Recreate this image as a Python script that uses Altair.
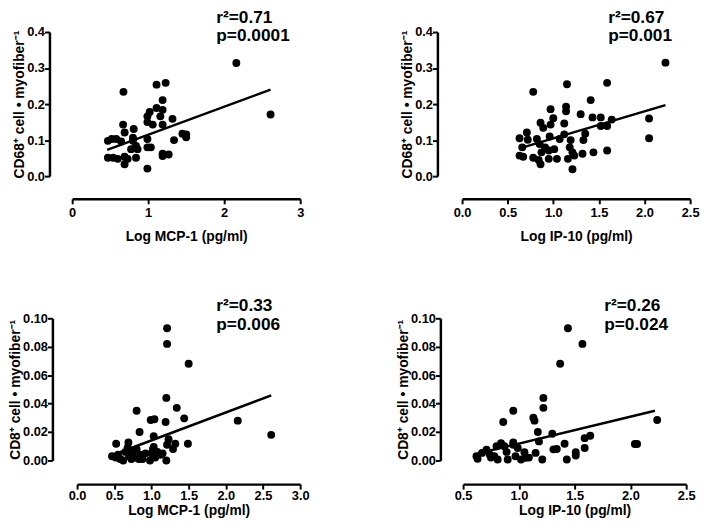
import altair as alt
import pandas as pd

FONT = "Liberation Sans"

# ---- Panel A: Log MCP-1 vs CD68+ cell / myofiber ----
a_x = [0.675, 1.11, 1.23, 1.19, 1.11, 1.19, 1.02, 0.99, 1.16, 0.99, 1.06, 1.32, 1.19,
       0.67, 0.81, 0.69, 0.52, 0.58, 0.645, 0.80, 0.80, 0.84, 0.775, 0.86, 0.99, 0.99,
       1.035, 1.34, 1.45, 1.50, 1.50, 1.19, 1.27, 1.19, 0.47, 0.54, 0.60, 0.69, 0.73,
       0.84, 0.69, 0.99, 2.16, 2.61, 0.47]
a_y = [0.234, 0.254, 0.259, 0.211, 0.189, 0.184, 0.178, 0.166, 0.166, 0.150, 0.143, 0.159, 0.143,
       0.143, 0.131, 0.121, 0.103, 0.103, 0.096, 0.107, 0.098, 0.084, 0.075, 0.075, 0.103, 0.080,
       0.080, 0.100, 0.118, 0.116, 0.108, 0.062, 0.060, 0.056, 0.051, 0.051, 0.048, 0.054, 0.048,
       0.051, 0.033, 0.021, 0.314, 0.171, 0.098]
a_fit_x = [0.46, 2.61]
a_fit_y = [0.073, 0.240]

# ---- Panel B: Log IP-10 vs CD68+ cell / myofiber ----
b_x = [0.78, 1.15, 1.59, 1.41, 0.97, 1.14, 1.14, 1.00, 1.30, 1.43, 1.52, 1.64, 0.86, 0.97,
       1.12, 0.89, 1.52, 1.59, 0.71, 0.63, 0.72, 0.82, 0.96, 1.12, 1.19, 1.07, 1.35, 1.33,
       0.66, 0.85, 0.91, 0.87, 1.01, 0.95, 1.18, 1.21, 0.63, 0.67, 0.78, 0.84, 0.95, 1.04,
       1.16, 1.23, 1.32, 1.44, 1.59, 0.86, 1.21, 2.23, 2.05, 2.05]
b_y = [0.234, 0.255, 0.259, 0.211, 0.186, 0.193, 0.180, 0.161, 0.172, 0.163, 0.163, 0.157, 0.148, 0.143,
       0.146, 0.134, 0.139, 0.139, 0.121, 0.105, 0.101, 0.103, 0.110, 0.116, 0.100, 0.103, 0.118, 0.100,
       0.080, 0.089, 0.080, 0.066, 0.075, 0.071, 0.080, 0.066, 0.057, 0.054, 0.051, 0.045, 0.048, 0.048,
       0.048, 0.057, 0.062, 0.066, 0.071, 0.033, 0.019, 0.315, 0.160, 0.105]
b_fit_x = [0.63, 2.23]
b_fit_y = [0.077, 0.197]

# ---- Panel C: Log MCP-1 vs CD8+ cell / myofiber ----
c_x = [1.21, 1.21, 1.50, 2.61, 2.16, 1.20, 1.34, 0.80, 0.99, 1.04, 1.19, 1.44, 0.84, 1.03,
       1.23, 0.525, 0.69, 1.21, 1.32, 1.49, 1.29, 1.03,
       0.47, 0.52, 0.55, 0.58, 0.62, 0.65, 0.68, 0.70, 0.73, 0.75, 0.78, 0.80, 0.83, 0.85,
       0.88, 0.98, 1.00, 1.02, 1.05, 1.08, 1.12, 1.15, 1.20, 0.92]
c_y = [0.093, 0.082, 0.068, 0.018, 0.028, 0.044, 0.037, 0.035, 0.0285, 0.029, 0.027, 0.0296, 0.020, 0.017,
       0.015, 0.0118, 0.0127, 0.011, 0.0118, 0.0118, 0.0081, 0.0095,
       0.003, 0.002, 0.004, 0.001, 0.000, 0.006, 0.009, 0.003, 0.001, 0.006, 0.002, 0.008, 0.001, 0.004,
       0.001, 0.000, 0.005, 0.008, 0.002, 0.006, 0.004, 0.005, 0.000, 0.005]
c_fit_x = [0.46, 2.61]
c_fit_y = [0.0035, 0.0458]

# ---- Panel D: Log IP-10 vs CD8+ cell / myofiber ----
d_x = [1.44, 1.57, 1.37, 2.24, 2.04, 2.06, 1.22, 1.22, 1.13, 1.14, 0.95, 0.86, 1.17, 1.30,
       1.18, 0.95, 0.84, 1.41, 1.59, 1.64, 1.34, 1.31, 1.59, 1.51, 1.51, 1.43, 1.21, 1.15,
       1.05, 1.06, 1.02, 0.97, 0.87, 0.89, 0.80, 0.71, 0.74, 0.63, 0.67, 0.78, 0.81, 0.90,
       0.95, 0.99, 0.62, 0.75, 1.09]
d_y = [0.093, 0.082, 0.068, 0.0285, 0.0116, 0.0116, 0.044, 0.037, 0.030, 0.028, 0.035, 0.027, 0.020, 0.0188,
       0.0134, 0.0127, 0.0122, 0.0118, 0.0157, 0.0174, 0.0081, 0.0078, 0.0088, 0.0058, 0.0035, 0.0007, 0.0007, 0.0053,
       0.0058, 0.0019, 0.0007, 0.003, 0.010, 0.006, 0.010, 0.0076, 0.004, 0.0012, 0.0053, 0.003, 0.0007, 0.0007,
       0.011, 0.0088, 0.003, 0.002, 0.002]
d_fit_x = [0.63, 2.22]
d_fit_y = [0.0049, 0.035]

y_title_cd68 = "CD68\u207a cell \u2022 myofiber\u207b\u00b9"
y_title_cd8 = "CD8\u207a cell \u2022 myofiber\u207b\u00b9"


def panel(xs, ys, fx, fy, xdom, xticks, xfmt, ydom, yticks, yfmt, xtitle, ytitle,
          r2, pv, w, h, xoff, yoff, tx, ty_r, ty_p, xlab_pad, xtitle_pad, xrange_start=0):
    pts = pd.DataFrame({"x": xs, "y": ys})
    fit = pd.DataFrame({"x": fx, "y": fy})
    if xrange_start:
        xsc = alt.Scale(domain=xdom, nice=False, zero=False, range=[xrange_start, w])
    else:
        xsc = alt.Scale(domain=xdom, nice=False, zero=False)
    ysc = alt.Scale(domain=ydom, nice=False, zero=False)
    xax = alt.Axis(values=xticks, format=xfmt, title=xtitle, offset=xoff,
                   labelFlush=False, labelOverlap=False, tickCount=len(xticks),
                   labelPadding=xlab_pad, titlePadding=xtitle_pad)
    yax = alt.Axis(values=yticks, format=yfmt, title=ytitle, offset=yoff,
                   labelOverlap=False, tickCount=len(yticks))
    points = alt.Chart(pts).mark_circle(size=64, color="black", opacity=1).encode(
        x=alt.X("x:Q", scale=xsc, axis=xax),
        y=alt.Y("y:Q", scale=ysc, axis=yax),
    )
    line = alt.Chart(fit).mark_line(color="black", strokeWidth=2.5).encode(
        x=alt.X("x:Q", scale=xsc, axis=xax),
        y=alt.Y("y:Q", scale=ysc, axis=yax),
    )
    t1 = alt.Chart(pd.DataFrame({"t": [r2]})).mark_text(
        align="left", baseline="alphabetic", fontSize=17.5, fontWeight="bold",
        font=FONT, color="black").encode(x=alt.value(tx + xrange_start), y=alt.value(ty_r), text="t:N")
    t2 = alt.Chart(pd.DataFrame({"t": [pv]})).mark_text(
        align="left", baseline="alphabetic", fontSize=17.5, fontWeight="bold",
        font=FONT, color="black").encode(x=alt.value(tx + xrange_start), y=alt.value(ty_p), text="t:N")
    return alt.layer(points, line, t1, t2).properties(width=w, height=h)


pA = panel(a_x, a_y, a_fit_x, a_fit_y, [0, 3], [0, 1, 2, 3], "d", [0, 0.4],
           [0, 0.1, 0.2, 0.3, 0.4], ".1f", "Log MCP-1 (pg/ml)", y_title_cd68,
           "r\u00b2=0.71", "p=0.0001", 231, 146, 23, 23, 146, -9, 9.5, 3, 10)
pB = panel(b_x, b_y, b_fit_x, b_fit_y, [0, 2.5], [0, 0.5, 1.0, 1.5, 2.0, 2.5], ".1f", [0, 0.4],
           [0, 0.1, 0.2, 0.3, 0.4], ".1f", "Log IP-10 (pg/ml)", y_title_cd68,
           "r\u00b2=0.67", "p=0.001", 231, 146, 23, 25, 148, -9, 9.5, 3, 10)
pC = panel(c_x, c_y, c_fit_x, c_fit_y, [0, 3], [0, 0.5, 1.0, 1.5, 2.0, 2.5, 3.0], ".1f", [0, 0.1],
           [0, 0.02, 0.04, 0.06, 0.08, 0.10], ".2f", "Log MCP-1 (pg/ml)", y_title_cd8,
           "r\u00b2=0.33", "p=0.006", 231, 144, 24, 20, 141, -7, 11.5, 1, 1, xrange_start=5)
pD = panel(d_x, d_y, d_fit_x, d_fit_y, [0.5, 2.5], [0.5, 1.0, 1.5, 2.0, 2.5], ".1f", [0, 0.1],
           [0, 0.02, 0.04, 0.06, 0.08, 0.10], ".2f", "Log IP-10 (pg/ml)", y_title_cd8,
           "r\u00b2=0.26", "p=0.024", 226, 144, 24, 23, 143, -7, 11.5, 1, 1)

chart = alt.vconcat(
    alt.hconcat(pA, pB, spacing=97),
    alt.hconcat(pC, pD, spacing=87),
    spacing=55,
).properties(
    padding={"left": 0, "top": -2, "right": 0, "bottom": 0}
).configure_view(stroke=None).configure_axis(
    grid=False,
    domainColor="black", domainWidth=2.5,
    tickColor="black", tickWidth=2, tickSize=5,
    labelFont=FONT, labelFontSize=13, labelFontWeight="bold", labelColor="black",
    titleFont=FONT, titleFontSize=14, titleFontWeight="bold", titleColor="black",
).configure_axisY(labelPadding=0, titlePadding=0)

chart.save("out.html", embed_options={"renderer": "svg", "actions": False})
